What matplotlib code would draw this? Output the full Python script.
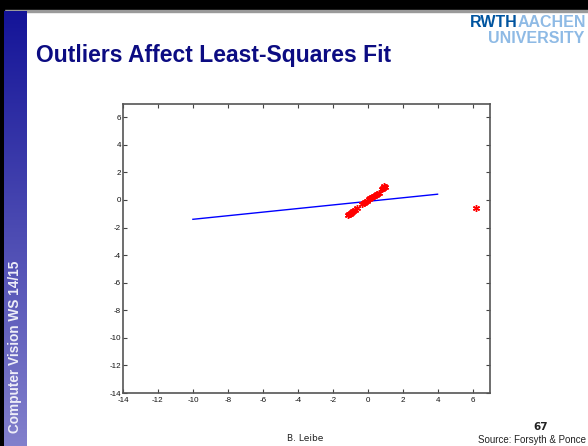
import matplotlib
matplotlib.use('Agg')
import matplotlib.pyplot as plt
import numpy as np
from matplotlib.patches import Rectangle

plt.rcParams['axes.unicode_minus'] = False

# data
inlier_x = [-1.10, -1.05, -1.00, -0.95, -0.90, -0.82, -0.75, -0.62,
            -0.30, -0.22, -0.15, -0.05,
            0.05, 0.15, 0.25, 0.35, 0.45, 0.55, 0.65,
            0.80, 0.88, 0.95, 1.02]
inlier_y = [-1.08, -1.00, -0.98, -0.92, -0.85, -0.80, -0.70, -0.60,
            -0.28, -0.20, -0.18, -0.05,
            0.10, 0.12, 0.22, 0.28, 0.35, 0.42, 0.50,
            0.80, 0.90, 0.98, 0.95]
outlier_x = [6.2]
outlier_y = [-0.55]

fit_x = [-10, 4]
fit_y = [-1.40, 0.42]

ticks = list(range(-14, 7, 2))
lims = (-14, 7)

title = 'Outliers Affect Least-Squares Fit'
sidebar_text = 'Computer Vision WS 14/15'
footer_author = 'B. Leibe'
footer_source = 'Source: Forsyth & Ponce'
page_number = '67'

W, H = 588, 446
fig = plt.figure(figsize=(W / 100, H / 100), dpi=100)

# slide background
bg = fig.add_axes([0, 0, 1, 1])
bg.axis('off')
bg.add_patch(Rectangle((0, 0), W, 10, color='black'))
bg.add_patch(Rectangle((0, 10), W, 1.5, color='#9a9a9a'))
bg.add_patch(Rectangle((0, 0), 4, H, color='black'))
grad = np.linspace(0, 1, 256)[:, None]
top_c = np.array([0x14, 0x14, 0x98]) / 255
bot_c = np.array([0x82, 0x80, 0xcc]) / 255
img = top_c[None, None, :] * (1 - grad[:, :, None]) + bot_c[None, None, :] * grad[:, :, None]
bg.imshow(img, extent=(4, 27, H, 11), aspect='auto', zorder=1)
bg.set_xlim(0, W)
bg.set_ylim(H, 0)

bg.text(36, 62, title, fontsize=16.5, fontweight='bold', color='#0c0c82',
        family=['Liberation Sans', 'DejaVu Sans'], va='baseline', ha='left')
bg.text(15, 433, sidebar_text, rotation=90, fontsize=9.8, fontweight='bold',
        color='#eeeef8', family=['Liberation Sans', 'DejaVu Sans'],
        ha='center', va='bottom')

# logo
logo_font = dict(family=['Liberation Sans', 'DejaVu Sans'], fontsize=11.5,
                 fontweight='bold', va='baseline')
rwth = bg.text(470, 27, 'RWTH', color='#00549f', ha='left', **logo_font)
fig.canvas.draw()
x_after = rwth.get_window_extent().x1
xa, _ = bg.transData.inverted().transform((x_after, 0))
bg.text(xa, 27, 'AACHEN', color='#8ebae5', ha='left', **logo_font)
bg.text(584, 43, 'UNIVERSITY', color='#8ebae5', ha='right', **logo_font)

# footer
bg.text(305, 441, footer_author, fontsize=6.5, color='#222222',
        family=['DejaVu Sans'], ha='center', va='baseline')
bg.text(548, 430, page_number, fontsize=7.5, fontweight='bold', color='#222222',
        family=['DejaVu Sans'], ha='right', va='baseline')
bg.text(586, 443, footer_source, fontsize=7, color='#222222',
        family=['Liberation Sans', 'DejaVu Sans'], ha='right', va='baseline')

# the plot itself
ax = fig.add_axes([123 / W, 1 - 393 / H, (490 - 123) / W, (393 - 103.5) / H])
ax.plot(fit_x, fit_y, color='#0000ff', linewidth=1.0)
ax.plot(inlier_x, inlier_y, linestyle='none', marker=(6, 2, 0), color='red',
        markersize=5, markeredgewidth=1.0)
ax.plot(outlier_x, outlier_y, linestyle='none', marker=(6, 2, 0), color='red',
        markersize=5, markeredgewidth=1.0)
ax.set_xlim(*lims)
ax.set_ylim(*lims)
ax.set_xticks(ticks)
ax.set_yticks(ticks)
ax.tick_params(direction='in', top=True, right=True, length=3, width=0.8,
               color='#444444', labelsize=5.8, labelcolor='#111111')
ax.tick_params(axis='x', pad=3)
ax.tick_params(axis='y', pad=1.5)
for s in ax.spines.values():
    s.set_color('#555555')
    s.set_linewidth(1.2)
for lab in ax.get_xticklabels() + ax.get_yticklabels():
    lab.set_family(['Liberation Sans', 'DejaVu Sans'])

fig.savefig('out.png', dpi=100)
